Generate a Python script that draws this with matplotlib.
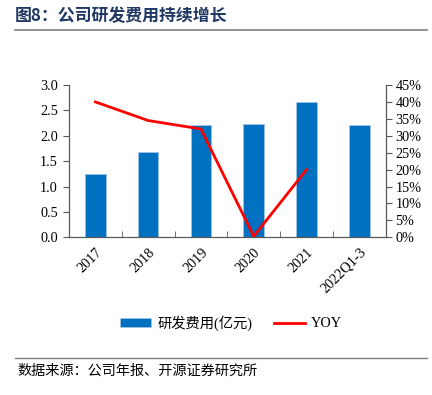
import matplotlib
matplotlib.use("Agg")
import matplotlib.pyplot as plt
from matplotlib.lines import Line2D
from matplotlib.patches import Patch
import numpy as np

categories = ["2017", "2018", "2019", "2020", "2021", "2022Q1-3"]
rd_expense = [1.25, 1.68, 2.21, 2.23, 2.66, 2.22]
yoy_cats = ["2017", "2018", "2019", "2020", "2021"]
yoy = [40.0, 34.5, 32.0, 0.3, 20.0]

serif = ["Liberation Serif", "Noto Sans CJK SC"]
cjk = ["Noto Sans CJK SC", "Liberation Serif"]

W, H = 432, 395
fig = plt.figure(figsize=(W/100, H/100), dpi=100)

ax = fig.add_axes([69/W, 1-237.3/H, (385.7-69)/W, (237.3-85)/H])
x = np.arange(len(categories))
ax.bar(x, rd_expense, width=0.39, color="#0070C0", edgecolor="#9DC3E6", linewidth=0.6, zorder=2)
ax.set_xlim(-0.5, len(categories)-0.5)
ax.set_ylim(0, 3.0)
ax.set_yticks(np.arange(0, 3.01, 0.5))
ax.set_yticklabels([f"{v:.1f}" for v in np.arange(0, 3.01, 0.5)], fontfamily=serif, fontsize=10.3)
ax.set_xticks(x)
ax.set_xticklabels(categories, rotation=45, ha="right", rotation_mode="anchor", fontfamily=serif, fontsize=10.3)
ax.tick_params(axis="x", length=0, pad=6)
ax.set_xticks(np.arange(-0.5, len(categories), 1), minor=True)
ax.tick_params(axis="x", which="minor", direction="in", length=4, color="#595959")
ax.tick_params(axis="y", direction="out", length=4, color="#595959", pad=4)
ax.spines["top"].set_visible(False)
for s in ["left", "bottom", "right"]:
    ax.spines[s].set_color("#595959")

ax2 = ax.twinx()
xi = [categories.index(c) for c in yoy_cats]
ax2.plot(xi, yoy, color="#FF0000", linewidth=2, zorder=3)
ax2.set_ylim(0, 45)
ax2.set_yticks(np.arange(0, 46, 5))
ax2.set_yticklabels([f"{v}%" for v in range(0, 46, 5)], fontfamily=serif, fontsize=10.3)
ax2.tick_params(axis="y", direction="out", length=4, color="#595959", pad=3)
ax2.spines["top"].set_visible(False)
for s in ["left", "bottom", "right"]:
    ax2.spines[s].set_color("#595959")

handles = [Patch(facecolor="#0070C0", edgecolor="#9DC3E6", linewidth=0.6),
           Line2D([], [], color="#FF0000", linewidth=2)]
leg = fig.legend(handles, ["研发费用(亿元)", "YOY"], loc="center", bbox_to_anchor=(231/W, 1-322.7/H),
                 ncol=2, frameon=False, prop={"family": serif, "size": 10.3},
                 handlelength=2.2, handleheight=0.6, columnspacing=1.5, handletextpad=0.4)

fig.text(15/W, 1-16/H, "图8：公司研发费用持续增长", fontfamily=cjk, fontsize=12.2, fontweight="bold",
         color="#1F3864", va="center", ha="left")
fig.add_artist(Line2D([15/W, 427/W], [1-30/H, 1-30/H], color="#808080", linewidth=1.2))
fig.add_artist(Line2D([15/W, 427/W], [1-357.7/H, 1-357.7/H], color="#808080", linewidth=1.0))
fig.text(17/W, 1-371/H, "数据来源：公司年报、开源证券研究所", fontfamily=cjk, fontsize=10.2,
         color="#000000", va="center", ha="left")

fig.savefig("out.png", dpi=100)
